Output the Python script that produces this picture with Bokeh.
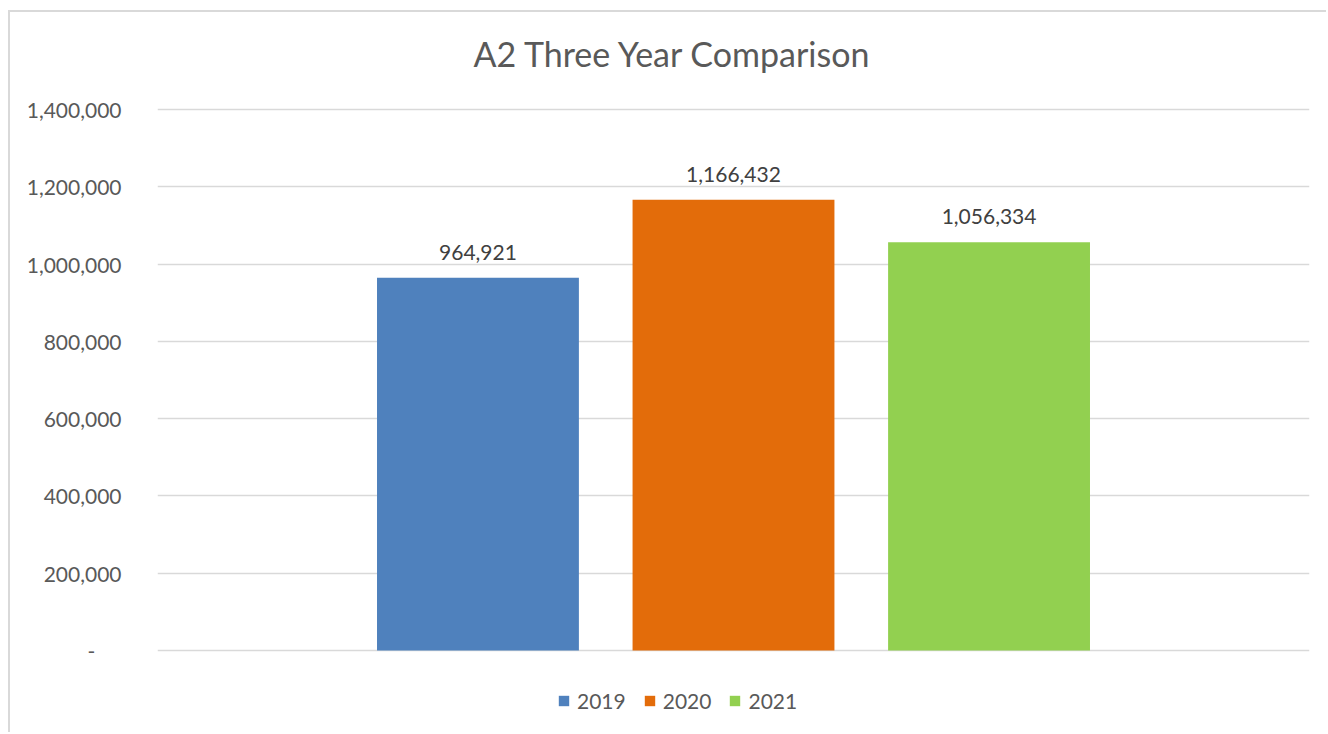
from bokeh.plotting import figure
from bokeh.models import (ColumnDataSource, Range1d, LabelSet, Label, Legend, LegendItem,
                          CustomJSTickFormatter, FixedTicker)
from bokeh.core.properties import value
from bokeh.embed import file_html
from bokeh.resources import INLINE

title_text = "A2 Three Year Comparison"
years = ["2019", "2020", "2021"]
values = [964921, 1166432, 1056334]
colors = ["#4F81BD", "#E36C0A", "#92D050"]
y_ticks = [0, 200000, 400000, 600000, 800000, 1000000, 1200000, 1400000]

n = len(years)
xpos = [i - (n - 1) / 2 for i in range(n)]
labels = [f"{v:,}" for v in values]

src = ColumnDataSource(dict(x=xpos, top=values, label=labels))

FONT = "Lato"
# frame spans the whole canvas height (title and legend sit inside it);
# only the fixed ticks get gridlines
p = figure(width=1318, height=722, output_backend="svg", toolbar_location=None,
           x_range=Range1d(-2.254, 2.254), y_range=Range1d(-207000, 1651000),
           min_border_left=147, min_border_right=19, min_border_top=0,
           min_border_bottom=4)
p.styles = {"margin-left": "8px", "margin-top": "10px",
            "border-left": "2px solid #D9D9D9", "border-top": "2px solid #D9D9D9"}
p.outline_line_color = None
p.background_fill_color = "white"
p.border_fill_color = "white"

title = Label(x=316, y=677, x_units="screen", y_units="screen", text=title_text,
              text_font=FONT, text_font_size="34px", text_color="#595959",
              text_align="left", text_baseline="alphabetic")
p.add_layout(title)

renderers = []
for i in range(n):
    sub = ColumnDataSource(dict(x=[xpos[i]], top=[values[i]]))
    r = p.vbar(x="x", top="top", bottom=0, width=0.79, source=sub,
               fill_color=colors[i], line_color=None)
    renderers.append(r)

p.xaxis.visible = False
p.xgrid.visible = False
p.ygrid.grid_line_color = "#D9D9D9"
p.ygrid.grid_line_width = 1.5

ax = p.yaxis[0]
ax.ticker = FixedTicker(ticks=y_ticks)
ax.formatter = CustomJSTickFormatter(
    code="return tick == 0 ? '-\u2003\u2002' : tick.toLocaleString('en-US');")
ax.axis_line_color = None
ax.major_tick_line_color = None
ax.minor_tick_line_color = None
ax.major_label_text_font = FONT
ax.major_label_text_font_size = "21px"
ax.major_label_text_color = "#595959"
ax.major_label_standoff = 30

lbl = LabelSet(x="x", y="top", text="label", source=src, text_align="center",
               text_baseline="alphabetic", y_offset=18, text_font=value(FONT),
               text_font_size=value("21px"), text_color=value("#404040"))
p.add_layout(lbl)

legend = Legend(items=[LegendItem(label=years[i], renderers=[renderers[i]]) for i in range(n)],
                orientation="horizontal", location=(400, 17),
                glyph_width=13, glyph_height=13, label_standoff=7, spacing=17,
                padding=0, margin=0, border_line_color=None,
                background_fill_alpha=0,
                label_text_font=FONT, label_text_font_size="21px",
                label_text_color="#595959")
p.add_layout(legend, "center")

open("out.html", "w").write(file_html(p, INLINE))
